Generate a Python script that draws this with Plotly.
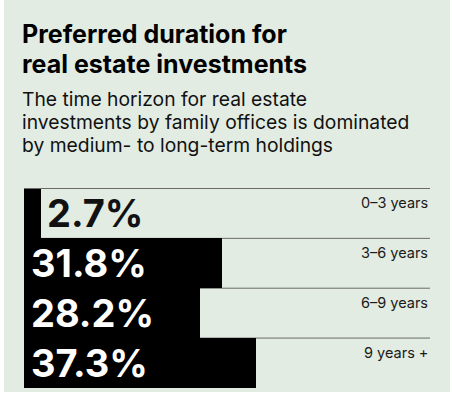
import plotly.graph_objects as go

categories = ["0–3 years", "3–6 years", "6–9 years", "9 years +"]
values = [2.7, 31.8, 28.2, 37.3]
value_labels = ["2.7%", "31.8%", "28.2%", "37.3%"]
label_inside = [False, True, True, True]

title_lines = ["Preferred duration for", "real estate investments"]
subtitle_lines = [
    "The time horizon for real estate",
    "investments by family offices is dominated",
    "by medium- to long-term holdings",
]

W, H = 452, 398
ML, MR, MT, MB = 24, 22, 188, 10
PW, PH = W - ML - MR, H - MT - MB
FONT = "Inter, 'Liberation Sans', Arial, sans-serif"
BG = "#e2ece2"


def py(p):
    """pixel y -> paper y"""
    return 1 + (MT - p) / PH


def px(p):
    return (p - ML) / PW


fig = go.Figure()
fig.add_trace(go.Bar(
    y=categories, x=values, orientation="h",
    marker=dict(color="#000000", line=dict(width=0)),
    hoverinfo="skip",
))

shapes = [dict(type="rect", xref="paper", yref="paper",
               x0=px(4), x1=px(450), y0=py(392), y1=py(0),
               fillcolor=BG, line=dict(width=0), layer="below")]
for i, c in enumerate(categories):
    shapes.append(dict(type="line", xref="paper", yref="y",
                       x0=0, x1=1, y0=i - 0.5, y1=i - 0.5,
                       line=dict(color="#6b6b6b", width=1), layer="below"))

annotations = []
for i, (c, v, lab, inside) in enumerate(zip(categories, values, value_labels, label_inside)):
    annotations.append(dict(
        x=0 if inside else v, y=c, xref="x", yref="y",
        text=lab, showarrow=False, xanchor="left", yanchor="middle",
        xshift=5 if inside else 4, yshift=0,
        font=dict(family=FONT, size=38, weight=700,
                  color="#ffffff" if inside else "#111111"),
    ))
    annotations.append(dict(
        x=1, y=c, xref="paper", yref="y", text=c, showarrow=False,
        xanchor="right", yanchor="middle", yshift=10.5,
        font=dict(family=FONT, size=14.5, color="#1a1a1a"),
    ))

for t, cy in zip(title_lines, [33.5, 64.5]):
    annotations.append(dict(
        x=0, y=py(cy), xref="paper", yref="paper", text=t, showarrow=False,
        xanchor="left", yanchor="middle", xshift=-4,
        font=dict(family=FONT, size=25, weight=700, color="#000000"),
    ))
for t, cy in zip(subtitle_lines, [99.2, 122.5, 145]):
    annotations.append(dict(
        x=0, y=py(cy), xref="paper", yref="paper", text=t, showarrow=False,
        xanchor="left", yanchor="middle", xshift=-4,
        font=dict(family=FONT, size=19.3, color="#111111"),
    ))

fig.update_layout(
    width=W, height=H,
    margin=dict(l=ML, r=MR, t=MT, b=MB, pad=0),
    paper_bgcolor="#ffffff", plot_bgcolor="rgba(0,0,0,0)",
    showlegend=False, bargap=0,
    xaxis=dict(range=[0, 65.2], visible=False, fixedrange=True),
    yaxis=dict(autorange="reversed", visible=False, fixedrange=True),
    shapes=shapes, annotations=annotations,
)

fig.write_html("out.html", config={"displayModeBar": False},
               post_script="document.body.style.margin='0';")
